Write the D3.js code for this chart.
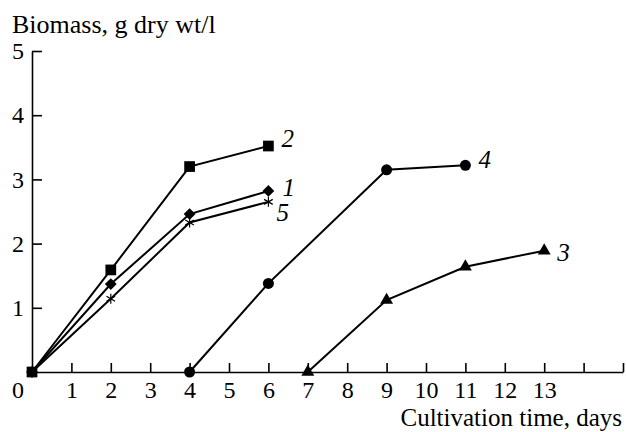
<!DOCTYPE html>
<html>
<head>
<meta charset="utf-8">
<script src="https://cdn.jsdelivr.net/npm/d3@7"></script>
<style>
  body { margin: 0; background: #fff; }
  svg { display: block; }
  text { fill: #000; }
</style>
</head>
<body>
<svg width="626" height="432"></svg>
<script>
// data
const xTicks = [1, 2, 3, 4, 5, 6, 7, 8, 9, 10, 11, 12, 13, 14, 15];
const xLabels = ["1", "2", "3", "4", "5", "6", "7", "8", "9", "10", "11", "12", "13", "", ""];
const yTicks = [1, 2, 3, 4, 5];

const days1 = [0, 2, 4, 6];
const bio1 = [0, 1.37, 2.46, 2.82];
const days2 = [0, 2, 4, 6];
const bio2 = [0, 1.59, 3.20, 3.52];
const days5 = [0, 2, 4, 6];
const bio5 = [0, 1.14, 2.33, 2.65];
const days4 = [4, 6, 9, 11];
const bio4 = [0, 1.38, 3.15, 3.22];
const days3 = [7, 9, 11, 13];
const bio3 = [0, 1.12, 1.64, 1.89];

const font = "'Liberation Serif', 'Times New Roman', serif";

let svg = d3.select("svg");

// scales
let x = d3.scaleLinear().domain([0, 15]).range([32, 623]);
let y = d3.scaleLinear().domain([0, 5]).range([372, 51]);

// axes (ticks point inward)
let yAxis = d3.axisLeft(y)
    .tickValues(yTicks)
    .tickSizeInner(-10)
    .tickSizeOuter(0)
    .tickPadding(8)
    .tickFormat(d3.format("d"));

let xAxis = d3.axisBottom(x)
    .tickValues(xTicks)
    .tickSizeInner(-9)
    .tickSizeOuter(0)
    .tickPadding(9)
    .tickFormat((d, i) => xLabels[i]);

let gy = svg.append("g").attr("transform", "translate(32,0)").call(yAxis);
let gx = svg.append("g").attr("transform", "translate(0,372)").call(xAxis);

[gx, gy].forEach(g => {
    g.attr("font-family", null);
    g.selectAll("path, line").attr("stroke", "#000").attr("stroke-width", 1.6);
    g.selectAll("text")
        .attr("font-family", font)
        .attr("font-size", 24)
        .attr("fill", "#000");
});

// shared origin label
svg.append("text")
    .attr("x", 24).attr("y", 398)
    .attr("text-anchor", "end")
    .attr("font-family", font)
    .attr("font-size", 24)
    .text("0");

// axis titles
svg.append("text")
    .attr("x", 12).attr("y", 33)
    .attr("font-family", font)
    .attr("font-size", 26)
    .text("Biomass, g dry wt/l");

svg.append("text")
    .attr("x", 622).attr("y", 426)
    .attr("text-anchor", "end")
    .attr("font-family", font)
    .attr("font-size", 25)
    .text("Cultivation time, days");

// series
let line = d3.line().x(d => x(d[0])).y(d => y(d[1]));

let series = [
    { name: "4", days: days4, bio: bio4, shape: "circle", lab: [13, 3] },
    { name: "3", days: days3, bio: bio3, shape: "triangle", lab: [13, 10] },
    { name: "5", days: days5, bio: bio5, shape: "asterisk", lab: [8, 19] },
    { name: "1", days: days1, bio: bio1, shape: "diamond", lab: [14, 5] },
    { name: "2", days: days2, bio: bio2, shape: "square", lab: [13, 1] }
];

let symbols = {
    circle: d3.symbol().type(d3.symbolCircle).size(95)(),
    triangle: d3.symbol().type(d3.symbolTriangle).size(72)(),
    asterisk: d3.symbol().type(d3.symbolAsterisk).size(70)(),
    diamond: d3.symbol().type(d3.symbolSquare).size(70)(),
    square: d3.symbol().type(d3.symbolSquare).size(115)()
};

series.forEach(s => {
    let pts = s.days.map((d, i) => [d, s.bio[i]]);

    svg.append("path")
        .datum(pts)
        .attr("d", line)
        .attr("fill", "none")
        .attr("stroke", "#000")
        .attr("stroke-width", 2);

    svg.append("g")
        .selectAll("path")
        .data(pts)
        .enter()
        .append("path")
        .attr("d", symbols[s.shape])
        .attr("transform", d => "translate(" + x(d[0]) + "," + y(d[1]) + ")" + (s.shape == "diamond" ? " rotate(45)" : ""))
        .attr("fill", s.shape == "asterisk" ? "none" : "#000")
        .attr("stroke", "#000")
        .attr("stroke-width", s.shape == "asterisk" ? 1.2 : 0);

    let last = pts[pts.length - 1];
    svg.append("text")
        .attr("x", x(last[0]) + s.lab[0])
        .attr("y", y(last[1]) + s.lab[1])
        .attr("font-family", font)
        .attr("font-size", 25)
        .attr("font-style", "italic")
        .text(s.name);
});
</script>
</body>
</html>
